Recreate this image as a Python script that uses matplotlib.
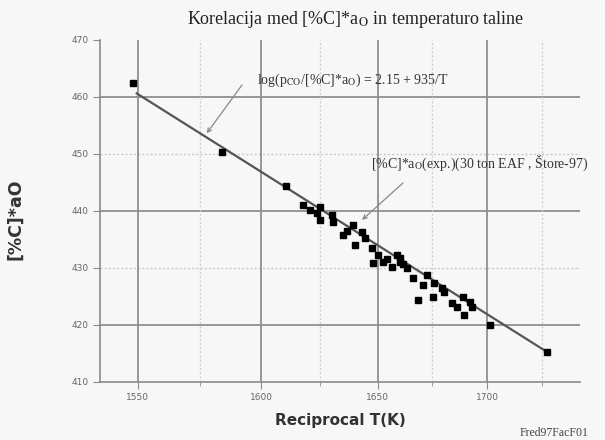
import numpy as np
import matplotlib
matplotlib.use('Agg')
import matplotlib.pyplot as plt

plt.rcParams['mathtext.fontset'] = 'stix'

# measured points: temperature (K) and [%C]*aO
temp_K = [1548.0, 1583.6, 1610.2, 1617.5, 1620.5, 1623.5, 1624.8, 1624.8,
          1629.9, 1630.2, 1634.7, 1639.1, 1640.0, 1643.1, 1644.4, 1647.5,
          1647.7, 1650.1, 1652.4, 1656.4, 1658.6, 1660.0, 1660.0, 1663.1,
          1665.8, 1668.1, 1670.4, 1672.2, 1674.9, 1675.5, 1679.0, 1680.1,
          1683.6, 1686.0, 1688.8, 1689.3, 1692.0, 1692.9, 1701.4, 1728.8,
          1636.5, 1654.0, 1661.5]
c_ao = [462.4, 450.3, 444.3, 441.0, 440.1, 439.6, 440.6, 438.4,
        439.2, 438.0, 435.7, 437.5, 434.0, 436.3, 435.2, 433.5,
        430.8, 432.2, 431.0, 430.1, 432.2, 431.7, 431.0, 429.9,
        428.2, 424.3, 427.0, 428.7, 424.9, 427.3, 426.4, 425.7,
        423.8, 423.1, 424.9, 421.7, 424.0, 423.1, 419.9, 415.2,
        436.5, 431.5, 430.6]

# regression line end points
fit_T = [1549.6, 1728.8]
fit_val = [460.6, 415.2]

x_ticks_T = [1550, 1600, 1650, 1700]
y_ticks = [410, 420, 430, 440, 450, 460, 470]
y_solid = [420, 440, 460]
y_dotted = [430, 450]


def inv(t):
    return 1e4 / np.asarray(t, dtype=float)


bg = '#f7f7f7'
fig = plt.figure(figsize=(6.05, 4.4), dpi=100, facecolor=bg)
ax = fig.add_axes([0.165, 0.1325, 0.794, 0.777], facecolor=bg)

# grid lines
xt = inv(x_ticks_T)
xminor = list((xt[:-1] + xt[1:]) / 2) + [xt[-1] + (xt[-1] - xt[-2]) / 2]
for v in y_solid:
    ax.axhline(v, color='#8f8f8f', lw=1.3, zorder=1)
for v in y_dotted:
    ax.axhline(v, color='#c8c8c8', lw=1.0, ls=(0, (1.5, 1.5)), zorder=1)
for v in xt:
    ax.axvline(v, color='#8f8f8f', lw=1.3, zorder=1)
for v in xminor:
    ax.axvline(v, color='#d0d0d0', lw=1.0, ls=(0, (1.5, 1.5)), zorder=1)

# regression line and data
ax.plot(inv(fit_T), fit_val, color='#555555', lw=1.6, zorder=2)
ax.plot(inv(temp_K), c_ao, 's', color='black', markersize=5, zorder=3)

ax.set_xlim(inv(1535.3), inv(1745.0))
ax.set_ylim(410, 470)
ax.set_xticks(xt)
ax.set_xticklabels([str(t) for t in x_ticks_T])
ax.set_xticks(xminor, minor=True)
ax.set_yticks(y_ticks)

for s in ['top', 'right']:
    ax.spines[s].set_visible(False)
for s in ['left', 'bottom']:
    ax.spines[s].set_color('#8a8a8a')
    ax.spines[s].set_linewidth(1.2)
ax.tick_params(axis='both', which='major', length=5, color='#8a8a8a',
               labelsize=6.5, labelcolor='#666666', pad=3)
ax.tick_params(axis='x', which='minor', length=3, color='#8a8a8a')

ax.set_xlabel('Reciprocal T(K)', fontsize=11, fontweight='bold', color='#333333',
              labelpad=8)
ax.set_ylabel('[%C]*aO', fontsize=12.5, fontweight='bold', color='#333333',
              va='center')
ax.yaxis.set_label_coords(-0.177, 0.474)

fig.text(0.587, 0.955, r'Korelacija med [%C]*a$_{\mathrm{O}}$ in temperaturo taline',
         ha='center', va='center', fontsize=13, family='Liberation Serif',
         color='#222222')

# annotation texts
fig.text(257 / 605, 1 - 80 / 440,
         r'log(p$_{\mathrm{CO}}$/[%C]*a$_{\mathrm{O}}$) = 2.15 + 935/T',
         fontsize=10, family='Liberation Serif', color='#333333',
         ha='left', va='center')
fig.text(371 / 605, 1 - 163 / 440,
         r'[%C]*a$_{\mathrm{O}}$(exp.)(30 ton EAF , Štore-97)',
         fontsize=10, family='Liberation Serif', color='#333333',
         ha='left', va='center')

# arrows pointing at the line and at the data
arrow = dict(arrowstyle='->', color='#888888', lw=0.9, shrinkA=0, shrinkB=0,
             mutation_scale=7)
ax.annotate('', xy=(inv(1577.5), 453.6), xytext=(242, 440 - 85),
            textcoords='figure pixels', arrowprops=arrow)
ax.annotate('', xy=(inv(1643.1), 438.4), xytext=(403, 440 - 183),
            textcoords='figure pixels', arrowprops=arrow)

fig.text(520 / 605, 1 - 433 / 440, 'Fred97FacF01', ha='left', va='center',
         fontsize=8.5, family='Liberation Serif', color='#444444')

fig.savefig('out.png', dpi=100, facecolor=bg)
